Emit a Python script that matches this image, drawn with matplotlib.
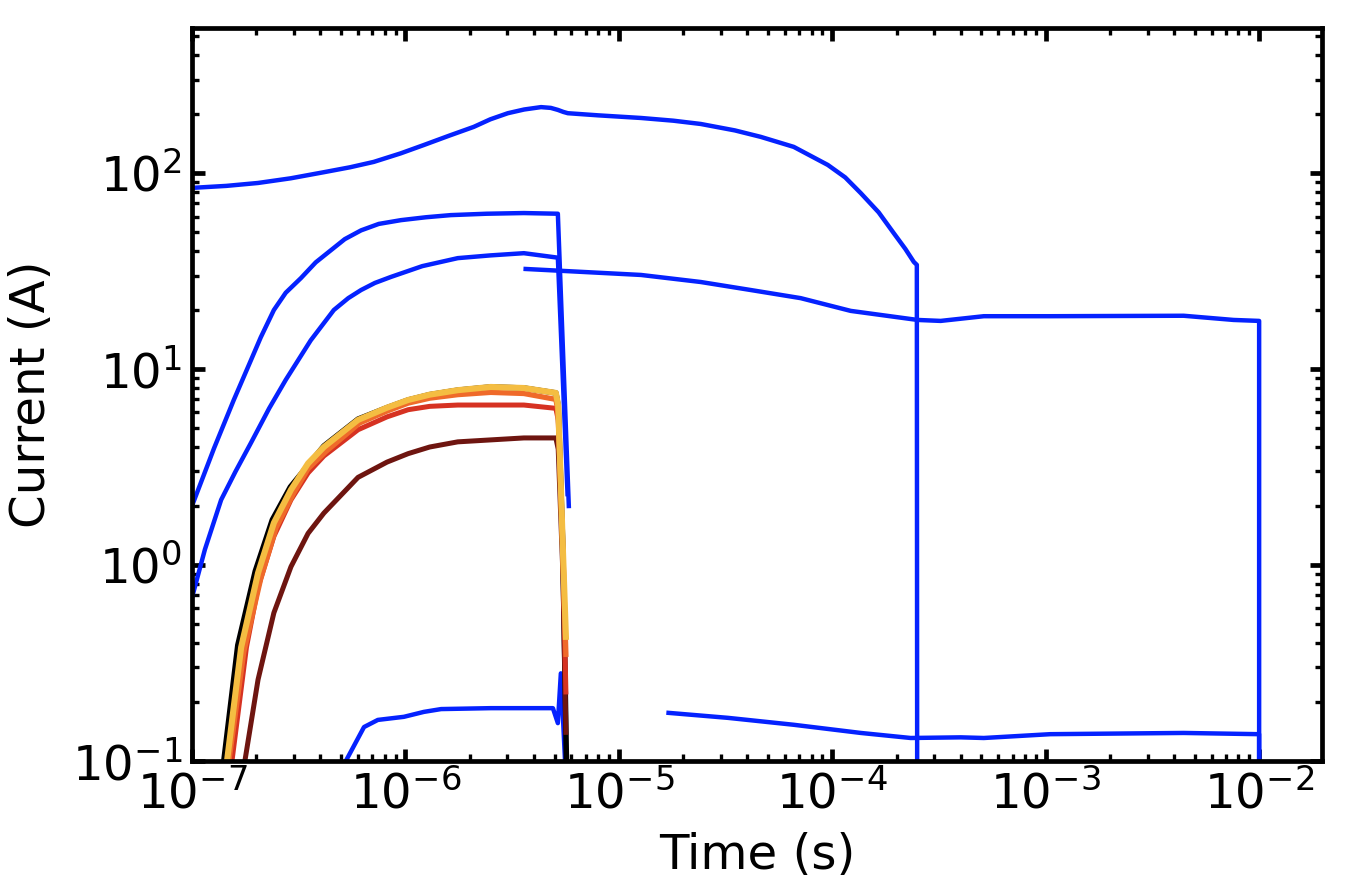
import matplotlib
matplotlib.use('Agg')
import matplotlib.pyplot as plt

# blue traces
t_a = [1.0e-7, 1.45e-7, 2.04e-7, 2.9e-7, 4.15e-7, 5.5e-7, 7.11e-7, 9.5e-7, 1.22e-6, 1.6e-6,
       2.09e-6, 2.5e-6, 3.02e-6, 3.6e-6, 4.32e-6, 4.8e-6, 5.18e-6, 5.5e-6, 5.77e-6, 8.0e-6,
       1.27e-5, 1.8e-5, 2.42e-5, 3.5e-5, 4.62e-5, 6.6e-5, 9.53e-5, 1.15e-4, 1.36e-4, 1.65e-4,
       1.94e-4, 2.2e-4, 2.41e-4, 2.49e-4, 2.50e-4]
i_a = [84, 86, 89, 94, 101, 107, 114, 126, 139, 155,
       172, 188, 202, 211, 217, 215, 210, 205, 202, 197,
       191, 185, 178, 165, 153, 136, 110, 95, 79, 63,
       49.4, 41, 35.2, 34, 0.05]

t_b = [1.0e-7, 1.27e-7, 1.57e-7, 1.89e-7, 2.1e-7, 2.42e-7, 2.75e-7, 3.24e-7, 3.8e-7, 4.48e-7,
       5.2e-7, 6.2e-7, 7.5e-7, 9.53e-7, 1.25e-6, 1.63e-6, 2.4e-6, 3.59e-6, 5.18e-6, 5.83e-6]
i_b = [2.0, 3.95, 6.95, 11.1, 14.5, 20, 24.5, 29.1, 35, 40.4,
       46, 51, 55, 57.5, 59.5, 61, 62, 62.5, 62, 2.0]

t_c = [1.0e-7, 1.15e-7, 1.37e-7, 1.6e-7, 1.89e-7, 2.3e-7, 2.75e-7, 3.6e-7, 4.62e-7, 5.4e-7,
       6.2e-7, 7.2e-7, 8.55e-7, 1.2e-6, 1.76e-6, 2.5e-6, 3.59e-6, 5.18e-6, 5.75e-6]
i_c = [0.68, 1.2, 2.15, 3.0, 4.2, 6.3, 8.8, 14, 20, 23,
       25.3, 27.5, 29.5, 33.5, 36.8, 38, 39, 37, 2.3]

t_d = [3.66e-6, 1.27e-5, 2.42e-5, 4.15e-5, 7.11e-5, 1.22e-4, 2.51e-4, 3.22e-4, 5.13e-4,
       1.05e-3, 4.43e-3, 7.59e-3, 1.0e-2, 1.0e-2]
i_d = [32.4, 30.2, 27.8, 25.3, 23, 19.8, 17.8, 17.6, 18.6, 18.6, 18.7, 17.8, 17.6, 0.05]

t_e = [5.26e-7, 6.4e-7, 7.43e-7, 9.84e-7, 1.22e-6, 1.47e-6, 2.51e-6, 4.91e-6, 5.18e-6,
       5.35e-6, 5.77e-6]
i_e = [0.1, 0.149, 0.162, 0.168, 0.178, 0.184, 0.186, 0.186, 0.156, 0.28, 0.05]

t_f = [1.71e-5, 3.24e-5, 6.6e-5, 1.36e-4, 2.33e-4, 4.0e-4, 5.13e-4, 1.05e-3, 4.43e-3,
       1.0e-2, 1.0e-2]
i_f = [0.176, 0.166, 0.153, 0.139, 0.131, 0.132, 0.131, 0.137, 0.139, 0.137, 0.05]

# warm traces (black -> yellow)
t_k = [1.41e-7, 1.64e-7, 1.98e-7, 2.38e-7, 2.89e-7, 4.15e-7, 6.0e-7, 8.2e-7, 1.03e-6, 1.3e-6,
       1.76e-6, 2.51e-6, 3.59e-6, 5.07e-6, 5.2e-6, 5.47e-6, 5.70e-6]
i_k = [0.1, 0.39, 0.93, 1.7, 2.5, 4.05, 5.55, 6.35, 6.95, 7.4,
       7.8, 8.1, 8.0, 7.55, 6.5, 1.2, 0.08]

t_br = [1.77e-7, 2.04e-7, 2.42e-7, 2.91e-7, 3.5e-7, 4.15e-7, 6.0e-7, 8.2e-7, 1.03e-6, 1.3e-6,
        1.76e-6, 3.59e-6, 5.07e-6, 5.2e-6, 5.47e-6, 5.65e-6]
i_br = [0.1, 0.26, 0.57, 0.98, 1.45, 1.84, 2.8, 3.35, 3.7, 4.0,
        4.25, 4.45, 4.45, 3.9, 0.9, 0.14]

t_r = [1.54e-7, 1.8e-7, 2.04e-7, 2.42e-7, 2.91e-7, 3.5e-7, 4.15e-7, 6.0e-7, 8.2e-7, 1.03e-6,
       1.3e-6, 1.76e-6, 3.59e-6, 5.07e-6, 5.2e-6, 5.47e-6, 5.65e-6]
i_r = [0.1, 0.38, 0.77, 1.4, 2.15, 2.95, 3.6, 4.9, 5.7, 6.2,
       6.45, 6.55, 6.55, 6.3, 5.5, 1.1, 0.225]

t_o = [1.49e-7, 1.75e-7, 2.1e-7, 2.48e-7, 2.98e-7, 3.5e-7, 4.25e-7, 6.1e-7, 8.2e-7, 1.03e-6,
       1.3e-6, 1.76e-6, 2.51e-6, 3.59e-6, 5.07e-6, 5.2e-6, 5.47e-6, 5.65e-6]
i_o = [0.1, 0.36, 0.85, 1.55, 2.3, 3.1, 3.8, 5.3, 6.1, 6.7,
       7.1, 7.4, 7.6, 7.5, 7.0, 6.0, 1.2, 0.35]

t_y = [1.46e-7, 1.70e-7, 2.04e-7, 2.42e-7, 2.91e-7, 3.5e-7, 4.15e-7, 6.0e-7, 8.2e-7, 1.03e-6,
       1.3e-6, 1.76e-6, 2.51e-6, 3.59e-6, 5.07e-6, 5.2e-6, 5.47e-6, 5.65e-6]
i_y = [0.1, 0.38, 0.91, 1.64, 2.42, 3.3, 4.0, 5.5, 6.35, 6.95,
       7.4, 7.8, 8.1, 8.0, 7.55, 6.5, 1.2, 0.43]

blue = '#0522ff'

plt.rcParams['font.family'] = 'DejaVu Sans'
plt.rcParams['font.size'] = 17.4
plt.rcParams['axes.linewidth'] = 1.7

fig, ax = plt.subplots(figsize=(6.74, 4.48), dpi=200)
fig.subplots_adjust(left=0.1424, right=0.9807, bottom=0.1507, top=0.9688)

for t, i in [(t_a, i_a), (t_b, i_b), (t_c, i_c), (t_d, i_d), (t_e, i_e), (t_f, i_f)]:
    ax.plot(t, i, color=blue, lw=1.6)

ax.plot(t_k, i_k, color='#000000', lw=2.0)
ax.plot(t_br, i_br, color='#6e1510', lw=1.8)
ax.plot(t_r, i_r, color='#d63222', lw=1.8)
ax.plot(t_o, i_o, color='#ef6a2a', lw=1.9)
ax.plot(t_y, i_y, color='#f4bd42', lw=2.2)

ax.set_xscale('log')
ax.set_yscale('log')
ax.set_xlim(1e-7, 1.97e-2)
ax.set_ylim(0.1, 550)
ax.set_xlabel('Time (s)', labelpad=5)
ax.set_ylabel('Current (A)', labelpad=6)
ax.tick_params(which='both', direction='in', top=True, right=True)
ax.tick_params(which='major', length=4.5, width=1.7)
ax.tick_params(which='minor', length=2.5, width=1.2)

fig.savefig('out.png', dpi=200)
